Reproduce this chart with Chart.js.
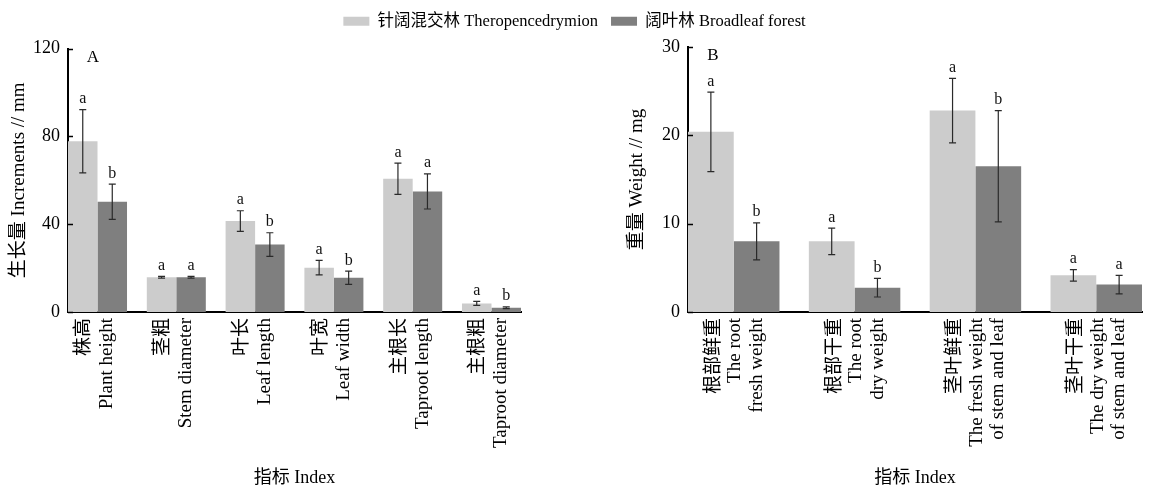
<!DOCTYPE html>
<html><head><meta charset="utf-8">
<script src="https://cdn.jsdelivr.net/npm/chart.js@4.4.1/dist/chart.umd.min.js"></script>
<style>
html,body{margin:0;padding:0;background:#fff;overflow:hidden;width:1149px;height:490px;}
canvas{position:absolute;left:0;top:0;}
</style></head><body>
<canvas id="cA" width="1149" height="490"></canvas>
<canvas id="cB" width="1149" height="490"></canvas>
<script>
// ---------- data ----------
const seriesNames = ['针阔混交林 Theropencedrymion', '阔叶林 Broadleaf forest'];
const seriesColors = ['#cccccc', '#7f7f7f'];

const categoriesA = [['株高','Plant height'],['茎粗','Stem diameter'],['叶长','Leaf length'],['叶宽','Leaf width'],['主根长','Taproot length'],['主根粗','Taproot diameter']];
const mixedA = [77.8, 15.8, 41.4, 20.2, 60.7, 3.9];
const mixedErrA = [14.4, 0.4, 4.7, 3.3, 7.1, 0.9];
const mixedLetA = ['a','a','a','a','a','a'];
const broadA = [50.2, 15.8, 30.7, 15.6, 54.9, 1.95];
const broadErrA = [8.0, 0.4, 5.4, 3.0, 8.0, 0.4];
const broadLetA = ['b','a','b','b','a','b'];
const yTicksA = {min: 0, max: 120, step: 40};

const categoriesB = [['根部鲜重','The root','fresh weight'],['根部干重','The root','dry weight'],['茎叶鲜重','The fresh weight','of stem and leaf'],['茎叶干重','The dry weight','of stem and leaf']];
const mixedB = [20.4, 8.0, 22.8, 4.15];
const mixedErrB = [4.5, 1.5, 3.65, 0.65];
const mixedLetB = ['a','a','a','a'];
const broadB = [8.0, 2.75, 16.5, 3.1];
const broadErrB = [2.1, 1.05, 6.3, 1.05];
const broadLetB = ['b','b','b','a'];
const yTicksB = {min: 0, max: 30, step: 10};

const FONT = "'Liberation Serif', 'Noto Sans CJK SC', serif";

// ---------- plugins ----------
// make the category groups touch the axis ends (no outer gap)
const stretchX = {
  id: 'stretchX',
  afterLayout(chart, args, opts) {
    const s = chart.scales.x;
    const n = chart.data.labels.length;
    s._startValue = -opts.c / 2;
    s._valueRange = n - 1 + opts.c;
  }
};
// error bars + significance letters + panel letter + inward ticks
const decor = {
  id: 'decor',
  afterDatasetsDraw(chart, args, opts) {
    const ctx = chart.ctx, y = chart.scales.y, area = chart.chartArea;
    ctx.save();
    chart.data.datasets.forEach((ds, di) => {
      const meta = chart.getDatasetMeta(di);
      meta.data.forEach((bar, i) => {
        const v = ds.data[i], e = ds.errorBars[i];
        const yt = y.getPixelForValue(v + e), yb = y.getPixelForValue(v - e);
        ctx.strokeStyle = '#2a2a2a'; ctx.lineWidth = 1.2;
        ctx.beginPath();
        ctx.moveTo(bar.x, yt); ctx.lineTo(bar.x, yb);
        ctx.moveTo(bar.x - 3.5, yt); ctx.lineTo(bar.x + 3.5, yt);
        ctx.moveTo(bar.x - 3.5, yb); ctx.lineTo(bar.x + 3.5, yb);
        ctx.stroke();
        ctx.fillStyle = '#111';
        ctx.font = '16px ' + FONT;
        ctx.textAlign = 'center'; ctx.textBaseline = 'alphabetic';
        ctx.fillText(ds.letters[i], bar.x, yt - 6.5);
      });
    });
    // inward tick marks
    ctx.strokeStyle = '#000'; ctx.lineWidth = 1.5;
    y.ticks.forEach(t => {
      const py = Math.round(y.getPixelForValue(t.value)) + 0.5;
      ctx.beginPath(); ctx.moveTo(area.left, py); ctx.lineTo(area.left + 5, py); ctx.stroke();
    });
    // panel letter
    ctx.fillStyle = '#000';
    ctx.font = '17px ' + FONT;
    ctx.textAlign = 'center'; ctx.textBaseline = 'alphabetic';
    ctx.fillText(opts.panel, area.left + 25, area.top + 13);
    ctx.restore();
  }
};

function makeDatasets(m, me, ml, b, be, bl) {
  return [
    {label: seriesNames[0], data: m, errorBars: me, letters: ml, backgroundColor: seriesColors[0], borderWidth: 0},
    {label: seriesNames[1], data: b, errorBars: be, letters: bl, backgroundColor: seriesColors[1], borderWidth: 0}
  ];
}

function xScale(lineH, labelOffset) {
  return {
    type: 'category',
    offset: true,
    grid: {display: false, drawTicks: false},
    border: {display: true, color: '#000', width: 2},
    ticks: {color: '#000', autoSkip: false, minRotation: 90, maxRotation: 90, padding: 6,
            labelOffset: labelOffset, font: {family: FONT, size: 19, lineHeight: lineH}},
    title: {display: true, text: '指标 Index', color: '#000', padding: {top: 0, bottom: 1},
            font: {family: FONT, size: 18}},
    afterFit: s => { s.height = 178; s.paddingLeft = 0; s.paddingRight = 0; }
  };
}
function yScale(t, title, titlePad, width) {
  return {
    position: 'left',
    min: t.min, max: t.max,
    grid: {display: false, drawTicks: false},
    border: {display: true, color: '#000', width: 2},
    ticks: {stepSize: t.step, color: '#000', padding: 8, font: {family: FONT, size: 18}},
    title: {display: true, text: title, color: '#000', padding: {top: titlePad, bottom: 0},
            font: {family: FONT, size: 19}},
    afterFit: s => { s.width = width; }
  };
}

// ---------- chart A (with legend) ----------
new Chart(document.getElementById('cA'), {
  type: 'bar',
  data: {labels: categoriesA, datasets: makeDatasets(mixedA, mixedErrA, mixedLetA, broadA, broadErrA, broadLetA)},
  options: {
    responsive: false, animation: false,
    layout: {padding: {left: 0, right: 0, top: 0, bottom: 0}},
    datasets: {bar: {categoryPercentage: 0.749, barPercentage: 1}},
    scales: {
      x: xScale('23px', -13),
      y: yScale(yTicksA, '生长量 Increments // mm', 8, 68),
      pad: {type: 'linear', position: 'right', display: true,
            ticks: {display: false}, grid: {display: false, drawTicks: false}, border: {display: false},
            afterFit: s => { s.width = 628; }}
    },
    plugins: {
      legend: {display: true, position: 'top', weight: 1000,
        labels: {boxWidth: 26, boxHeight: 9, padding: 13, color: '#000', font: {family: FONT, size: 16.5}}},
      title: {display: true, text: '', weight: 500, padding: 0, font: {size: 9, lineHeight: '9px'}},
      tooltip: {enabled: false},
      stretchX: {c: 0.749},
      decor: {panel: 'A'}
    }
  },
  plugins: [stretchX, decor]
});

// ---------- chart B ----------
new Chart(document.getElementById('cB'), {
  type: 'bar',
  data: {labels: categoriesB, datasets: makeDatasets(mixedB, mixedErrB, mixedLetB, broadB, broadErrB, broadLetB)},
  options: {
    responsive: false, animation: false,
    layout: {padding: {left: 580, right: 7, top: 47, bottom: 0}},
    datasets: {bar: {categoryPercentage: 0.757, barPercentage: 1}},
    scales: {
      x: xScale('21.5px', -20),
      y: yScale(yTicksB, '重量 Weight // mg', 46, 108)
    },
    plugins: {
      legend: {display: false},
      tooltip: {enabled: false},
      stretchX: {c: 0.757},
      decor: {panel: 'B'}
    }
  },
  plugins: [stretchX, decor]
});
</script>
</body></html>
